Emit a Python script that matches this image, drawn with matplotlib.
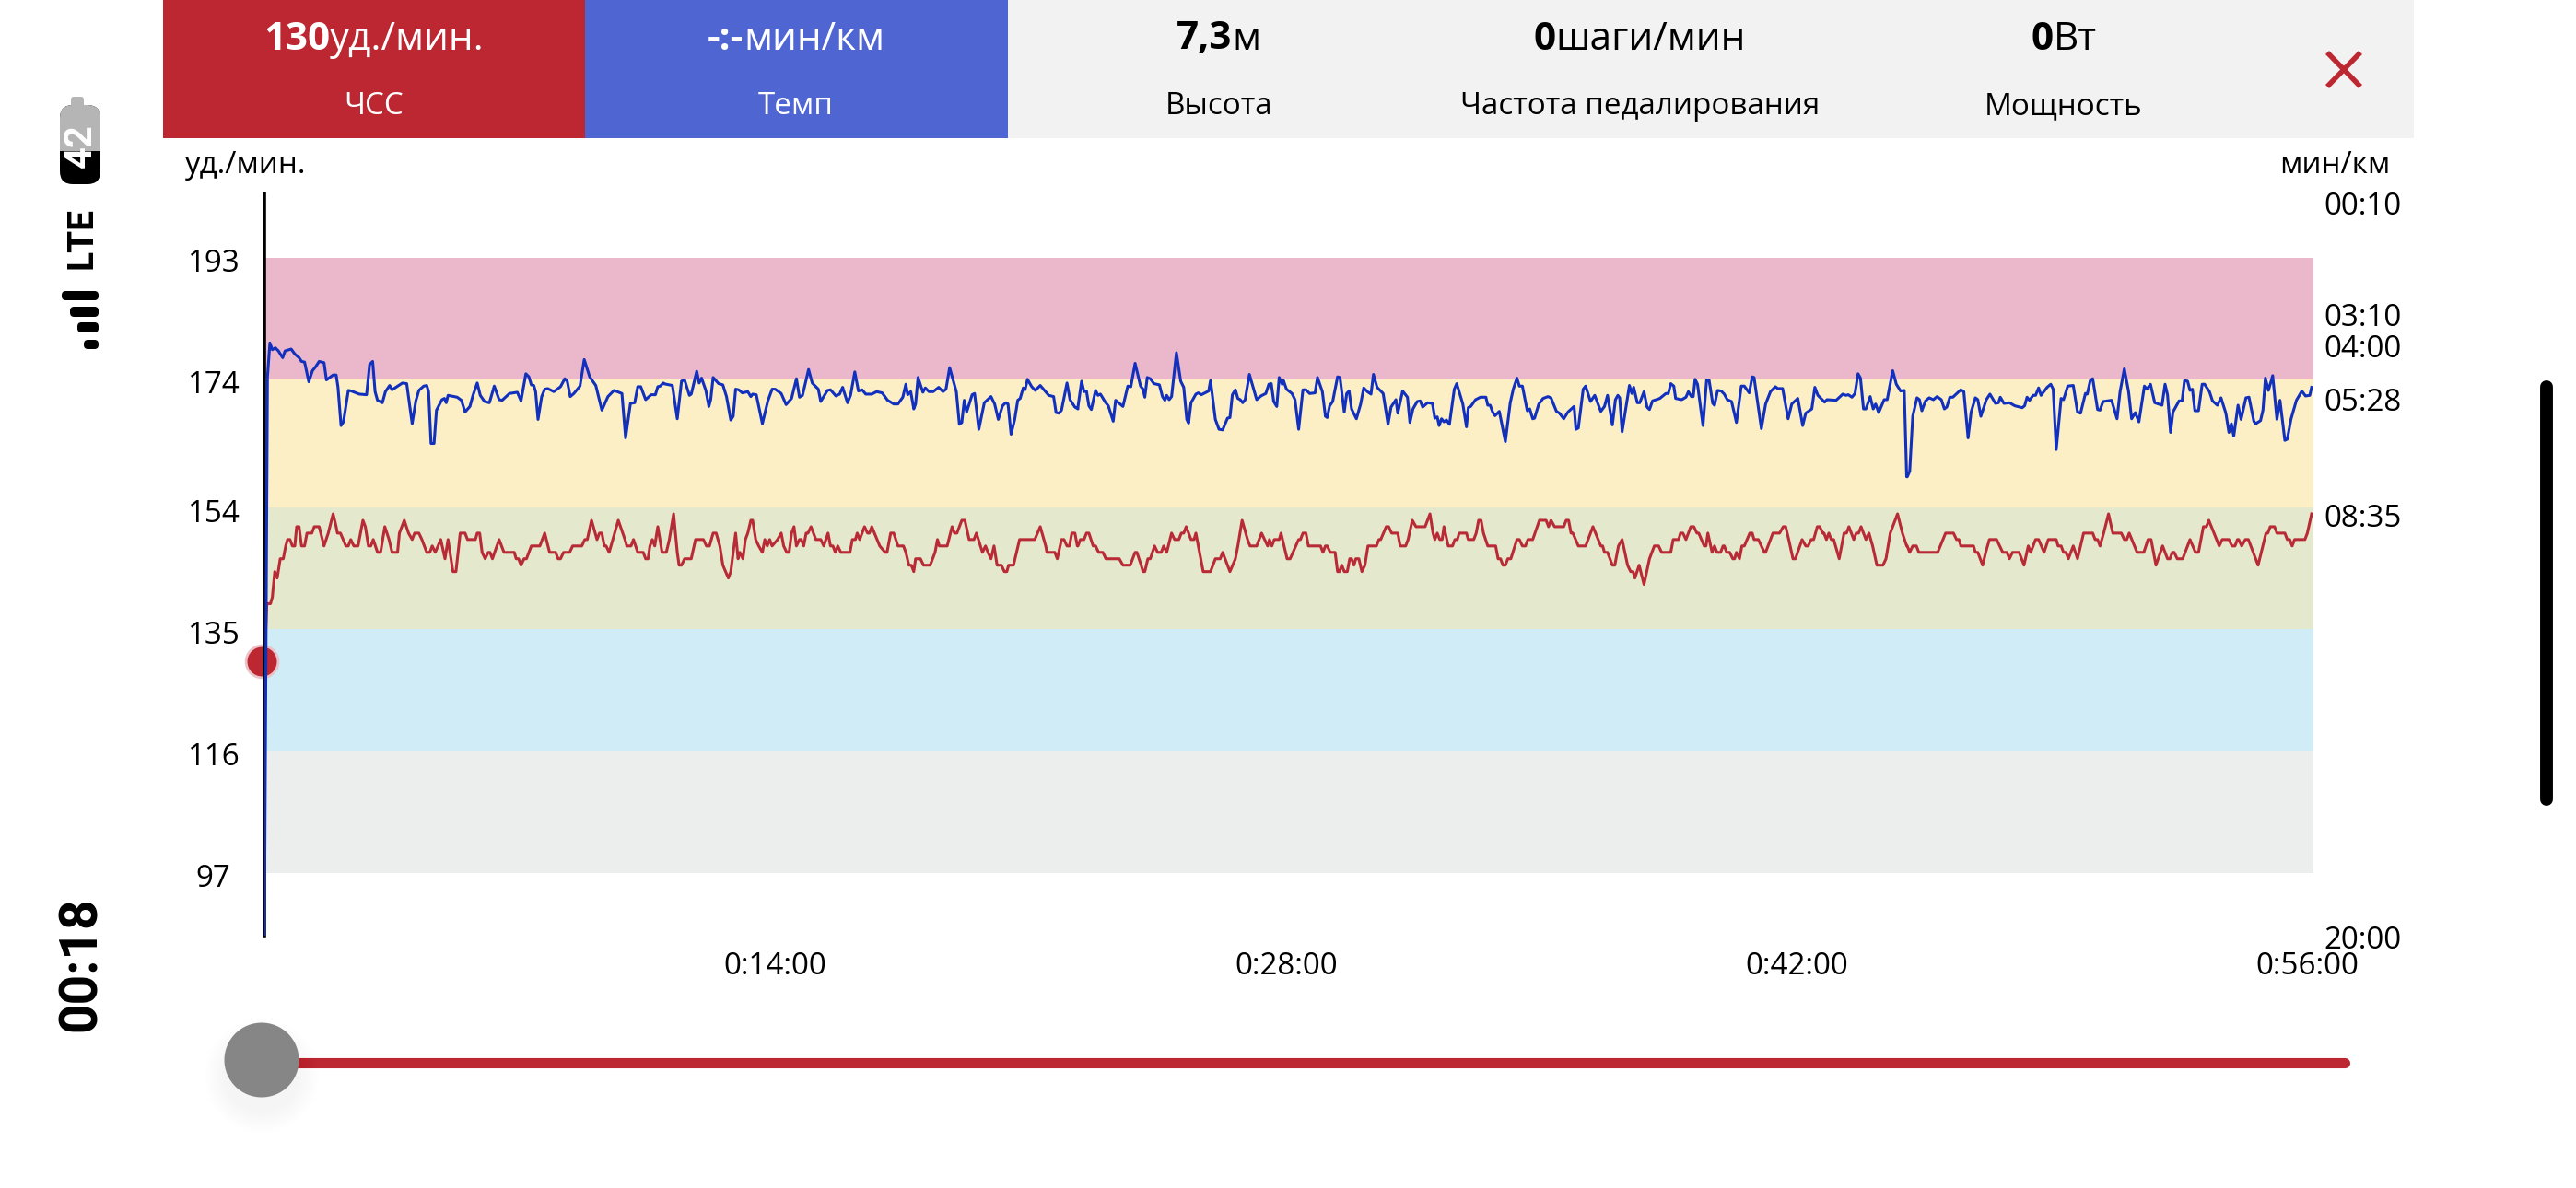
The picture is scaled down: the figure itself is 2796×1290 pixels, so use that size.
import logging
import matplotlib
matplotlib.use("Agg")
import matplotlib.pyplot as plt
from matplotlib.patches import Rectangle, FancyBboxPatch, Circle
from matplotlib.transforms import ScaledTranslation

logging.getLogger("matplotlib.font_manager").setLevel(logging.ERROR)
plt.rcParams['font.family'] = ['Open Sans', 'DejaVu Sans']

# ------------------ DATA ------------------
# heart rate: (seconds, bpm)
hr_a = [(0,130),(4,139),(10,139),(13,140),(17,144),(21,143),(26,146),(31,146),(35,148),(38,149),(42,149),(46,148),(50,148),(53,151),(57,151),(61,148),(66,148),(70,150),(78,150),(82,151),(90,151),(98,148),(105,150),(113,153),(118,151),(120,150),(125,150),(134,148),(138,148),(142,149),(147,148),(154,148),(162,152),(166,151),(171,148),(175,148),(179,149),(186,147),(191,147),(198,151),(205,149),(210,147),(219,147),(222,150),(230,152),(237,150),(243,149),(247,150),(254,150),(259,149),(267,147),(272,147),(276,148),(281,147),(290,149),(297,146),(302,149),(310,144),(315,144),(322,150),(330,150),(334,149),(347,149),(350,150),(354,150),(358,147),(363,146),(368,147),(371,147),(375,146),(386,149),(394,147),(411,147),(414,146),(418,146),(422,145),(427,146),(431,146),(439,148),(453,148),(461,150),(469,147),(479,147),(483,146),(487,146),(492,147),(502,147),(507,148),(522,148),(527,149),(531,149),(538,152),(547,149),(551,150),(555,150),(559,148),(562,148),(567,147),(582,152),(593,149),(596,148),(603,148),(607,149),(614,147),(623,147),(627,146),(631,146),(634,148),(638,149),(642,148),(647,151),(654,147)]
hr_b = [(656,147),(661,147),(666,149),(673,153),(679,147),(682,145),(686,145),(691,146),(702,146),(709,149),(722,149),(727,148),(732,148),(738,150),(743,150),(749,148),(754,145),(763,143),(767,144),(775,150),(779,146),(782,147),(787,146),(791,149),(795,150),(800,152),(803,152),(808,149),(813,148),(819,147),(823,149),(827,148),(831,149),(835,148),(844,149),(850,150),(854,148),(859,147),(863,147),(867,150),(871,151),(875,148),(880,149),(883,149),(887,148),(891,150),(894,150),(899,151),(907,149),(915,149),(920,148),(927,150),(931,148),(935,148),(939,147),(943,148),(948,147),(963,147),(967,149),(972,149),(975,150),(979,149),(987,151),(992,150),(995,150),(999,151),(1012,148),(1021,147),(1024,147),(1030,150),(1035,150),(1042,148),(1051,148),(1055,147),(1060,145),(1064,145),(1068,144),(1071,146),(1079,146),(1084,145),(1095,145),(1103,147),(1107,149),(1110,148),(1123,148),(1131,151),(1135,150),(1139,150),(1147,152),(1152,152),(1159,149),(1167,149),(1171,150),(1181,147),(1186,148),(1190,147),(1195,146),(1200,148),(1205,145),(1212,145),(1217,144),(1221,144),(1224,145),(1232,145),(1242,149),(1267,149),(1276,151),(1285,148),(1287,147),(1300,147),(1304,146),(1311,149),(1315,149),(1320,148),(1324,148),(1328,150),(1333,150),(1337,148)]
hr_c = [(1338,148),(1342,149),(1348,149),(1352,150),(1356,150),(1363,148),(1367,148),(1372,147),(1379,147),(1384,146),(1406,146),(1412,145),(1424,145),(1432,147),(1435,147),(1442,145),(1445,144),(1448,144),(1453,146),(1457,146),(1464,148),(1469,147),(1475,147),(1479,148),(1484,147),(1492,150),(1497,149),(1504,149),(1508,150),(1512,150),(1516,151),(1524,149),(1529,149),(1532,150),(1544,144),(1556,144),(1564,146),(1572,146),(1576,147),(1588,144),(1597,146),(1601,148),(1608,152),(1617,149),(1621,148),(1632,148),(1640,150),(1650,148),(1653,149),(1657,148),(1661,149),(1669,149),(1672,150),(1682,146),(1687,146),(1701,149),(1704,149),(1708,150),(1713,150),(1717,148),(1737,148),(1741,147),(1745,148),(1748,148),(1753,147),(1761,147),(1765,144),(1768,144),(1772,145),(1776,144),(1781,144),(1785,146),(1788,146),(1792,145),(1795,146),(1800,146),(1805,144),(1810,145),(1815,148),(1819,148),(1829,148),(1833,149),(1836,149),(1845,151),(1849,151),(1854,150),(1864,150),(1868,148),(1877,148),(1881,149),(1888,152),(1894,151),(1909,151),(1917,153),(1922,150),(1925,149),(1929,150),(1933,149),(1937,149),(1940,151),(1947,148),(1954,148),(1958,149),(1962,149),(1965,150),(1977,150),(1980,149),(1989,149),(1993,150),(1997,152),(2001,152),(2005,150),(2012,148),(2019,148)]
hr_d = [(2020,148),(2025,148),(2029,146),(2033,146),(2037,145),(2041,145),(2045,146),(2050,146),(2060,149),(2064,149),(2069,148),(2074,148),(2078,149),(2086,149),(2097,152),(2108,152),(2112,151),(2116,152),(2122,151),(2137,151),(2141,152),(2145,152),(2149,150),(2152,150),(2161,148),(2173,148),(2185,151),(2198,148),(2201,148),(2204,147),(2209,147),(2217,145),(2221,145),(2227,148),(2233,149),(2242,145),(2247,144),(2251,144),(2254,143),(2261,145),(2269,142),(2278,146),(2286,148),(2293,148),(2298,147),(2313,147),(2317,149),(2326,149),(2329,150),(2333,150),(2338,149),(2346,151),(2351,151),(2356,150),(2359,150),(2368,148),(2371,148),(2374,150),(2381,147),(2385,148),(2389,147),(2395,147),(2399,148),(2401,148),(2405,147),(2410,147),(2415,146),(2418,146),(2421,147),(2426,146),(2430,148),(2434,148),(2443,150),(2447,150),(2450,149),(2457,149),(2467,147),(2469,147),(2481,150),(2492,150),(2498,151),(2502,151),(2507,149),(2514,146),(2518,146),(2529,149),(2535,148),(2539,148),(2544,149),(2548,149),(2554,151),(2558,151),(2563,150),(2565,150),(2569,149),(2573,150),(2577,149),(2581,149),(2590,146),(2598,150),(2602,150),(2606,151),(2614,149),(2618,150),(2622,150),(2626,151),(2634,149),(2639,150),(2645,148),(2652,145),(2662,145),(2667,146),(2674,150),(2686,153),(2694,150),(2701,148)]
hr_e = [(2702,148),(2706,147),(2711,148),(2717,148),(2721,147),(2752,147),(2765,150),(2778,150),(2783,149),(2787,149),(2790,148),(2811,148),(2814,147),(2818,147),(2826,145),(2831,147),(2837,149),(2849,149),(2859,147),(2866,147),(2870,146),(2875,147),(2886,147),(2894,145),(2901,148),(2905,147),(2913,149),(2918,149),(2927,147),(2934,149),(2947,149),(2950,148),(2955,148),(2959,147),(2963,147),(2967,146),(2975,148),(2982,146),(2992,150),(3007,150),(3011,149),(3015,149),(3019,148),(3025,150),(3033,153),(3040,150),(3044,150),(3054,150),(3059,149),(3063,149),(3067,150),(3080,147),(3091,147),(3098,149),(3103,149),(3111,145),(3122,148),(3130,146),(3134,146),(3138,147),(3141,147),(3146,146),(3155,146),(3167,149),(3176,147),(3181,147),(3189,151),(3194,151),(3198,152),(3215,148),(3220,149),(3231,149),(3236,148),(3241,148),(3245,149),(3247,149),(3252,148),(3258,149),(3263,149),(3279,145),(3292,150),(3295,150),(3299,151),(3306,151),(3310,150),(3323,150),(3327,149),(3331,149),(3335,148),(3339,149),(3356,149),(3360,150),(3367,153)]

# pace: (seconds, seconds per km)
pace_a = [(0,1200),(5,294),(9,239),(13,250),(18,247),(23,252),(30,263),(34,252),(44,249),(50,257),(57,263),(61,269),(66,270),(73,302),(79,284),(84,278),(90,269),(98,271),(102,299),(113,291),(118,291),(121,311),(126,373),(130,367),(138,316),(143,317),(156,322),(168,323),(173,274),(178,269),(182,318),(186,332),(194,336),(199,318),(206,308),(210,315),(227,304),(234,305),(243,370),(249,333),(254,316),(262,309),(267,308),(270,318),(274,402),(279,402),(283,348),(292,331),(296,329),(299,336),(302,324),(317,327),(324,332),(330,351),(338,342),(343,324),(350,304),(355,324),(362,334),(370,336),(378,309),(386,331),(391,332),(403,321),(416,319),(422,333),(430,289),(435,294),(439,307),(443,308),(446,318),(450,363),(456,326),(461,314),(466,313),(476,318),(487,310),(494,297),(498,301),(503,326),(509,321),(519,309),(526,266),(535,294),(545,308),(555,348),(565,326),(575,316),(588,321),(594,393),(602,337),(609,336),(614,310),(619,310),(627,331),(636,323),(643,323),(647,310),(651,309),(656,304)]
pace_b = [(656,305),(671,308),(679,362),(686,301),(691,299),(699,324),(702,322),(711,285),(715,304),(719,296),(726,316),(731,342),(734,331),(738,295),(747,305),(754,307),(760,326),(767,364),(771,358),(775,314),(780,315),(786,320),(795,318),(800,326),(803,322),(809,323),(819,370),(828,333),(835,314),(840,314),(850,321),(858,339),(867,329),(875,297),(880,327),(885,324),(895,282),(901,304),(911,314),(915,334),(926,316),(931,315),(940,325),(946,322),(951,311),(959,336),(964,324),(971,286),(977,317),(983,315),(989,322),(999,322),(1007,318),(1016,320),(1025,332),(1035,338),(1042,338),(1050,327),(1055,306),(1058,323),(1063,318),(1068,346),(1071,338),(1075,295),(1083,319),(1087,312),(1093,318),(1100,318),(1109,311),(1116,318),(1121,314),(1127,279),(1138,318),(1143,371),(1147,368),(1151,332),(1155,351),(1164,323),(1168,321),(1175,379),(1184,336),(1195,326),(1201,338),(1207,363),(1214,341),(1219,336),(1223,338),(1228,387),(1234,363),(1239,332),(1243,329),(1248,312),(1251,315),(1255,298),(1262,310),(1268,316),(1276,308),(1290,324),(1298,326),(1302,352),(1307,353),(1311,348),(1320,304),(1325,331),(1333,343),(1338,346)]
pace_c = [(1338,343),(1344,301),(1348,318),(1352,317),(1356,341),(1360,347),(1367,316),(1371,324),(1375,322),(1383,335),(1388,341),(1396,366),(1400,332),(1412,342),(1420,309),(1425,310),(1432,272),(1441,309),(1445,314),(1448,327),(1452,295),(1457,297),(1463,305),(1472,307),(1477,326),(1481,332),(1484,324),(1488,331),(1492,326),(1500,255),(1507,301),(1512,311),(1517,363),(1520,369),(1524,336),(1532,322),(1536,320),(1541,323),(1553,317),(1556,300),(1564,363),(1570,379),(1576,380),(1584,361),(1588,360),(1592,323),(1597,315),(1601,329),(1605,331),(1609,336),(1613,331),(1620,290),(1632,331),(1639,325),(1647,321),(1652,306),(1656,305),(1660,334),(1665,342),(1669,295),(1674,306),(1676,300),(1681,314),(1690,321),(1695,331),(1701,379),(1708,315),(1713,315),(1719,321),(1728,320),(1732,295),(1740,318),(1745,358),(1748,360),(1752,341),(1757,334),(1765,294),(1769,295),(1776,351),(1780,321),(1784,317),(1788,346),(1796,362),(1803,338),(1808,312),(1814,318),(1820,322),(1824,290),(1830,311),(1840,321),(1848,371),(1853,343),(1861,331),(1864,353),(1872,317),(1880,327),(1884,368),(1889,346),(1896,334),(1901,333),(1905,343),(1913,336),(1921,337),(1925,361),(1929,359),(1932,373),(1936,362),(1940,367),(1944,364),(1949,371),(1957,314),(1961,305),(1971,338),(1977,375),(1980,344),(1984,342),(1992,331),(2000,327),(2009,327),(2012,340),(2016,340),(2020,351)]
pace_d = [(2024,357),(2031,350),(2041,399),(2049,336),(2054,314),(2060,296),(2064,309),(2069,309),(2077,349),(2081,346),(2086,362),(2089,361),(2096,338),(2103,329),(2111,326),(2116,328),(2125,350),(2130,353),(2137,362),(2144,351),(2154,342),(2157,379),(2161,377),(2169,314),(2173,309),(2181,334),(2188,324),(2198,350),(2204,342),(2209,324),(2217,372),(2222,331),(2226,324),(2229,328),(2233,383),(2245,308),(2249,321),(2252,311),(2258,336),(2262,336),(2269,318),(2274,343),(2278,347),(2283,333),(2295,329),(2305,321),(2309,321),(2313,305),(2318,309),(2321,329),(2331,331),(2338,327),(2342,318),(2347,326),(2350,326),(2353,298),(2357,306),(2366,373),(2372,299),(2376,299),(2382,337),(2385,340),(2390,316),(2396,317),(2401,322),(2406,331),(2413,334),(2421,368),(2429,309),(2434,309),(2442,320),(2447,294),(2450,295),(2462,378),(2469,338),(2477,318),(2485,310),(2489,313),(2497,313),(2506,362),(2512,338),(2522,329),(2530,373),(2535,353),(2545,346),(2550,311),(2555,324),(2566,335),(2570,331),(2585,332),(2596,322),(2601,324),(2605,323),(2611,327),(2616,321),(2621,289),(2625,296),(2630,346),(2634,346),(2641,326),(2646,346),(2650,338),(2655,352),(2664,331),(2669,331),(2678,284),(2684,306),(2691,317),(2697,316),(2701,456)]
pace_e = [(2702,456),(2706,447),(2711,358),(2718,328),(2722,331),(2726,349),(2732,333),(2738,328),(2745,331),(2751,326),(2758,331),(2763,346),(2767,343),(2772,327),(2777,327),(2790,315),(2795,318),(2802,393),(2807,351),(2814,328),(2818,331),(2823,358),(2832,331),(2838,322),(2847,337),(2852,336),(2855,327),(2861,337),(2870,336),(2879,341),(2891,344),(2895,341),(2899,327),(2903,332),(2909,324),(2913,324),(2918,312),(2922,324),(2932,311),(2938,306),(2942,314),(2947,412),(2955,329),(2959,331),(2966,309),(2975,308),(2982,351),(2987,353),(2995,321),(2998,322),(3003,300),(3007,297),(3015,347),(3019,348),(3024,334),(3038,332),(3047,362),(3052,318),(3059,281),(3066,318),(3071,362),(3077,352),(3083,367),(3092,309),(3096,314),(3102,306),(3109,336),(3121,340),(3126,306),(3130,323),(3135,384),(3139,351),(3149,333),(3154,333),(3158,300),(3163,301),(3167,316),(3171,314),(3175,349),(3181,349),(3187,306),(3191,306),(3199,318),(3204,333),(3212,340),(3218,328),(3226,353),(3231,384),(3235,370),(3239,390),(3246,340),(3251,363),(3259,328),(3264,327),(3272,366),(3275,370),(3283,365),(3287,348),(3291,296),(3296,316),(3303,292),(3310,363),(3315,332),(3323,397),(3327,395),(3333,363),(3342,332),(3351,317),(3357,325),(3364,324),(3367,311)]

hr_ticks = [193, 174, 154, 135, 116, 97]
pace_ticks = [10, 190, 240, 328, 515, 1200]
pace_labels = ['00:10', '03:10', '04:00', '05:28', '08:35', '20:00']
time_ticks = [840, 1680, 2520, 3360]
time_labels = ['0:14:00', '0:28:00', '0:42:00', '0:56:00']
zone_colors = ['#EBB7CB', '#FCEFC6', '#E4E9CD', '#CFECF7', '#ECEEEE']
current_hr = 130

hr_points = hr_a + hr_b + hr_c + hr_d + hr_e
pace_points = pace_a + pace_b + pace_c + pace_d + pace_e
hr_t, hr_v = zip(*hr_points)
pace_t, pace_v = zip(*pace_points)

RED = '#BC2731'
BLUE_PANEL = '#4E65D2'
LINE_RED = '#B92A37'
LINE_BLUE = '#1230BE'
W, H = 2796, 1290
TXT = 23.9
VAL = 30.4

fig = plt.figure(figsize=(W / 100, H / 100), dpi=100, facecolor='white')

# ---- page layer in pixel units ----
bg = fig.add_axes([0, 0, 1, 1], zorder=0)
bg.set_xlim(0, W)
bg.set_ylim(H, 0)
bg.axis('off')

bg.add_patch(Rectangle((177, 0), 458, 150, fc=RED, ec='none'))
bg.add_patch(Rectangle((635, 0), 459, 150, fc=BLUE_PANEL, ec='none'))
bg.add_patch(Rectangle((1094, 0), 1526, 150, fc='#F2F2F2', ec='none'))


def value_text(cx, y, bold, regular, color):
    r = fig.canvas.get_renderer()
    a = bg.text(cx, y, bold, fontsize=VAL, fontweight='bold', color=color, ha='left', va='center_baseline')
    b = bg.text(cx, y, regular, fontsize=VAL, color=color, ha='left', va='center_baseline')
    wa = a.get_window_extent(r).width
    wb = b.get_window_extent(r).width
    left = cx - (wa + wb) / 2
    a.set_x(left)
    b.set_x(left + wa)


panels = [
    (406, '130', 'уд./мин.', 'ЧСС', 'white'),
    (864, '-:-', 'мин/км', 'Темп', 'white'),
    (1323, '7,3', 'м', 'Высота', 'black'),
    (1780, '0', 'шаги/мин', 'Частота педалирования', 'black'),
    (2240, '0', 'Вт', 'Мощность', 'black'),
]
for cx, b_, r_, lab, col in panels:
    value_text(cx, 38, b_, r_, col)
    bg.text(cx, 112, lab, fontsize=TXT, color=col, ha='center', va='center_baseline')

bg.plot([2526, 2562], [57, 94], color=RED, lw=4, solid_capstyle='butt')
bg.plot([2562, 2526], [57, 94], color=RED, lw=4, solid_capstyle='butt')

bg.text(200, 175, 'уд./мин.', fontsize=TXT, ha='left', va='center_baseline', color='black')
bg.text(2594, 175, 'мин/км', fontsize=TXT, ha='right', va='center_baseline', color='black')

# slider
bg.plot([290, 2545], [1154, 1154], color=RED, lw=8, solid_capstyle='round', zorder=1)
for k in range(10):
    bg.add_patch(Circle((284, 1168), 62 - 2.4 * k, fc='black', ec='none', alpha=0.005, zorder=1.5))
bg.add_patch(Circle((284, 1151), 40.5, fc='#868686', ec='none', zorder=2))

# scrollbar
bg.plot([2764, 2764], [420, 868], color='black', lw=10, solid_capstyle='round')


def pill(x0, y0, x1, y1, fc, rad=5):
    bg.add_patch(FancyBboxPatch((x0 + rad, y0 + rad), x1 - x0 - 2 * rad, y1 - y0 - 2 * rad,
                                boxstyle=f'round,pad={rad},rounding_size={rad}', fc=fc, ec='none'))


# status bar, rotated
for y0, y1, x0 in [(316, 326, 67), (333, 344, 76), (350, 361, 84), (369, 379, 91)]:
    pill(x0, y0, 107, y1, 'black', rad=4.5)
bg.text(89, 258, 'LTE', rotation=90, fontsize=28, fontweight='bold',
        family=['Liberation Sans Narrow', 'Roboto', 'DejaVu Sans'], ha='center', va='center')
pill(65, 114, 109, 200, 'black', rad=14)
pill(65, 114, 109, 176, '#B5B5B5', rad=14)
bg.add_patch(Rectangle((65, 150), 44, 14, fc='#B5B5B5', ec='none'))
bg.add_patch(Rectangle((65, 164), 44, 14, fc='black', ec='none'))
bg.add_patch(FancyBboxPatch((80, 108), 8, 6, boxstyle='round,pad=3,rounding_size=3', fc='#B5B5B5', ec='none'))
bg.text(87, 158, '42', rotation=90, fontsize=30, fontweight='bold', family=['Roboto', 'DejaVu Sans'],
        color='white', ha='center', va='center')
bg.text(88, 1047, '00:18', rotation=90, fontsize=41, fontweight='bold', family=['Roboto', 'DejaVu Sans'],
        color='black', ha='center', va='center')

# ---- chart ----
LEFT, RIGHT, TOP, BOTTOM = 287, 2511, 210, 1016
ax = fig.add_axes([LEFT / W, 1 - BOTTOM / H, (RIGHT - LEFT) / W, (BOTTOM - TOP) / H], zorder=2)
ax.patch.set_alpha(0)
ax.set_xlim(0, 3370)
ax.set_ylim(87.2, 203.0)
for s in ax.spines.values():
    s.set_visible(False)

for upper, lower, col in zip(hr_ticks[:-1], hr_ticks[1:], zone_colors):
    ax.axhspan(lower, upper, color=col, lw=0, zorder=1)

ax.plot(hr_t, hr_v, color=LINE_RED, lw=2.2, zorder=3, solid_joinstyle='round')
ax.plot([hr_t[0] - 4.5], [current_hr], marker='o', ms=25, mfc=RED, mec='#E9C3C8', mew=2, ls='none', clip_on=False, zorder=4)
ax.axvline(0, color='black', lw=2.6, zorder=5, clip_on=False)

ax.set_yticks(hr_ticks)
ax.set_yticklabels([str(v) for v in hr_ticks], ha='center', fontsize=TXT)
ax.tick_params(axis='y', length=0, pad=40)
down_left = ScaledTranslation(0, -3 / 100, fig.dpi_scale_trans)
for lab in ax.get_yticklabels():
    lab.set_transform(lab.get_transform() + down_left)
ax.set_xticks(time_ticks)
ax.set_xticklabels(time_labels, fontsize=TXT)
ax.tick_params(axis='x', length=0, pad=12)

ax2 = ax.twinx()
ax2.patch.set_alpha(0)
ax2.set_zorder(3)
ax2.set_ylim(1194, -3.4)
for s in ax2.spines.values():
    s.set_visible(False)
ax2.plot(pace_t, pace_v, color=LINE_BLUE, lw=2.2, zorder=3, solid_joinstyle='round')
ax2.set_yticks(pace_ticks)
ax2.set_yticklabels(pace_labels, fontsize=TXT)
ax2.tick_params(axis='y', length=0, pad=8.5)
down_right = ScaledTranslation(0, -2 / 100, fig.dpi_scale_trans)
for lab in ax2.get_yticklabels():
    lab.set_transform(lab.get_transform() + down_right)

fig.savefig('out.png', dpi=100, facecolor='white')
